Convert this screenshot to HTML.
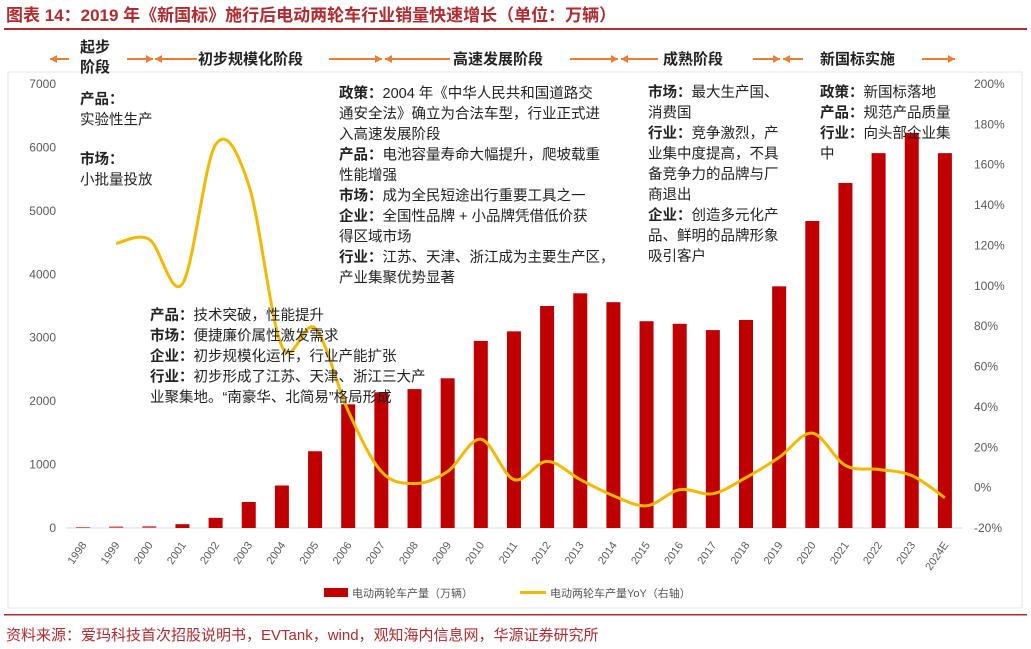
<!DOCTYPE html>
<html><head><meta charset="utf-8">
<style>
body{margin:0;background:#fff;width:1031px;height:649px;overflow:hidden;font-family:"Liberation Sans","Noto Sans CJK SC",sans-serif;}
svg{display:block}
</style></head>
<body>
<svg width="1031" height="649" viewBox="0 0 1031 649" xmlns="http://www.w3.org/2000/svg" font-family="'Liberation Sans','Noto Sans CJK SC',sans-serif">
<text x="6" y="21" font-size="17" font-weight="bold" fill="#b22a2e">图表 14：2019 年《新国标》施行后电动两轮车行业销量快速增长（单位：万辆）</text>
<rect x="4" y="28" width="1023" height="2" fill="#b22a2e"/>
<rect x="8" y="72" width="1014" height="536" fill="none" stroke="#e6e6e6"/>
<g id="stages" font-size="15" font-weight="bold" fill="#222"></g>
<g id="axes"></g>
<g id="bars"></g>
<path id="yoy" fill="none" stroke="#f5b800" stroke-width="3"/>
<g id="notes" font-size="14.5" fill="#222"></g>
<g font-size="11" fill="#555">
<rect x="324" y="588" width="24" height="9" fill="#c00000"/>
<text x="352" y="597">电动两轮车产量（万辆）</text>
<rect x="520" y="591" width="26" height="3" fill="#f5b800"/>
<text x="550" y="597">电动两轮车产量YoY（右轴）</text>
</g>
<rect x="4" y="614" width="1023" height="1.5" fill="#b22a2e"/>
<text x="6" y="640" font-size="15" fill="#b22a2e">资料来源：爱玛科技首次招股说明书，EVTank，wind，观知海内信息网，华源证券研究所</text>
</svg>
<script>
const categories=["1998","1999","2000","2001","2002","2003","2004","2005","2006","2007","2008","2009","2010","2011","2012","2013","2014","2015","2016","2017","2018","2019","2020","2021","2022","2023","2024E"];
const production=[15,25,30,60,160,410,670,1210,1950,2140,2190,2360,2950,3100,3500,3700,3560,3260,3220,3120,3280,3810,4840,5440,5910,6230,5910];
const yoyCats=["1999","2000","2001","2002","2003","2004","2005","2006","2007","2008","2009","2010","2011","2012","2013","2014","2015","2016","2017","2018","2019","2020","2021","2022","2023","2024E"];
const yoy=[121,123,101,170,150,70,79,38,8,2,8,24,4,13,4,-4,-9,-1,-3,5,15,27,11,9,6,-5];
const leftTicks=[0,1000,2000,3000,4000,5000,6000,7000];
const rightTicks=[-20,0,20,40,60,80,100,120,140,160,180,200];
const NS="http://www.w3.org/2000/svg";
const yL=v=>528-v*444/7000, yR=p=>528-(p+20)*444/220, xC=i=>83+i*33.15;
function mk(t,a,p){const e=document.createElementNS(NS,t);for(const k in a)e.setAttribute(k,a[k]);(p||document.querySelector('svg')).appendChild(e);return e;}
const ax=document.getElementById('axes');
mk('line',{x1:66,x2:962,y1:528,y2:528,stroke:'#d9d9d9'},ax);
leftTicks.forEach(v=>{const t=mk('text',{x:56,y:yL(v)+4,'text-anchor':'end','font-size':12,fill:'#595959'},ax);t.textContent=v;

});
rightTicks.forEach(v=>{const t=mk('text',{x:974,y:yR(v)+4,'font-size':12,fill:'#595959'},ax);t.textContent=v+'%';

});
categories.forEach((c,i)=>{const x=xC(i)+4,y=545;const t=mk('text',{x:x,y:y,'text-anchor':'end','font-size':11,fill:'#595959',transform:`rotate(-55 ${x} ${y})`},ax);t.textContent=c;

});
const bg=document.getElementById('bars');
production.forEach((v,i)=>{const r=mk('rect',{x:xC(i)-7,y:yL(v),width:14,height:528-yL(v),fill:i<3?'#d46060':'#c00000'},bg);

});
const pts=yoy.map((p,i)=>[xC(categories.indexOf(yoyCats[i])),yR(p)]);
let d='M'+pts[0].join(',');
for(let i=0;i<pts.length-1;i++){const p0=pts[i-1]||pts[i],p1=pts[i],p2=pts[i+1],p3=pts[i+2]||p2;
d+=` C${p1[0]+(p2[0]-p0[0])/6},${p1[1]+(p2[1]-p0[1])/6} ${p2[0]-(p3[0]-p1[0])/6},${p2[1]-(p3[1]-p1[1])/6} ${p2[0]},${p2[1]}`;}
document.getElementById('yoy').setAttribute('d',d);
// stages
const sg=document.getElementById('stages');
function arrow(x1,x2,dir){mk('line',{x1:x1,x2:x2,y1:59,y2:59,stroke:'#ed7d31','stroke-width':2},sg);
const h=dir>0?x2:x1;mk('polygon',{points:dir>0?`${h},59 ${h-7},55 ${h-7},63`:`${h},59 ${h+7},55 ${h+7},63`,fill:'#ed7d31'},sg);}
arrow(50,69,-1);arrow(127,153,1);arrow(155,197,-1);arrow(329,382,1);arrow(385,450,-1);
arrow(570,618,1);arrow(621,658,-1);arrow(753,780,1);arrow(783,803,-1);arrow(922,955,1);
[['起步',80,52],['阶段',80,72],['初步规模化阶段',198,64],['高速发展阶段',453,64],['成熟阶段',663,64],['新国标实施',820,64]].forEach(s=>{const t=mk('text',{x:s[1],y:s[2]},sg);t.textContent=s[0];

});
// notes
const ng=document.getElementById('notes');
function note(x,y,lines){lines.forEach((l,i)=>{const t=mk('text',{x:x,y:y+i*20.5},ng);


if(l[0]){const b=mk('tspan',{'font-weight':'bold'},t);b.textContent=l[0];}
const s=mk('tspan',{},t);s.textContent=l[1];});}
note(80,104,[['产品：',''],['','实验性生产']]);
note(80,164,[['市场：',''],['','小批量投放']]);
note(339,98,[['政策：','2004 年《中华人民共和国道路交'],['','通安全法》确立为合法车型，行业正式进'],['','入高速发展阶段'],['产品：','电池容量寿命大幅提升，爬坡载重'],['','性能增强'],['市场：','成为全民短途出行重要工具之一'],['企业：','全国性品牌 + 小品牌凭借低价获'],['','得区域市场'],['行业：','江苏、天津、浙江成为主要生产区，'],['','产业集聚优势显著']]);
note(150,320,[['产品：','技术突破，性能提升'],['市场：','便捷廉价属性激发需求'],['企业：','初步规模化运作，行业产能扩张'],['行业：','初步形成了江苏、天津、浙江三大产'],['','业聚集地。“南豪华、北简易”格局形成']]);
note(648,97,[['市场：','最大生产国、'],['','消费国'],['行业：','竞争激烈，产'],['','业集中度提高，不具'],['','备竞争力的品牌与厂'],['','商退出'],['企业：','创造多元化产'],['','品、鲜明的品牌形象'],['','吸引客户']]);
note(820,97,[['政策：','新国标落地'],['产品：','规范产品质量'],['行业：','向头部企业集'],['','中']]);
</script>
</body></html>
